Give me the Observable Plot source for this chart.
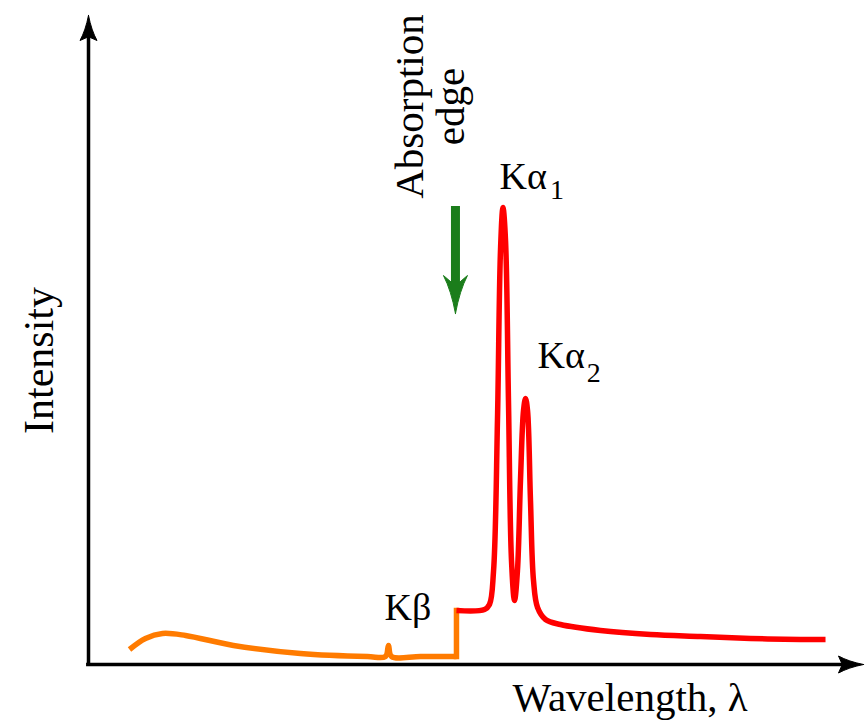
<!DOCTYPE html>
<html>
<head>
<meta charset="utf-8">
<script src="https://cdn.jsdelivr.net/npm/d3@7"></script>
<script src="https://cdn.jsdelivr.net/npm/@observablehq/plot@0.6"></script>
<style>
  html, body { margin: 0; padding: 0; background: #fff; }
</style>
</head>
<body>
<div id="chart"></div>
<script>
// Continuum below the absorption edge (orange)
const orangeLambda    = [5.29, 7.35, 9.55, 12.52, 18.71, 27.35, 36.00, 38.32, 38.71, 39.10, 42.84, 47.48];
const orangeIntensity = [2.31, 4.01, 4.78, 4.47, 2.93, 1.69, 1.23, 1.23, 2.93, 1.23, 1.23, 1.23];
// Absorption edge jump
const edgeLambda    = [47.48, 47.48];
const edgeIntensity = [1.23, 8.32];
// Above the edge, with the K-alpha doublet (red)
const redLambda    = [47.48, 51.10, 51.74, 52.26, 52.77, 53.16, 53.48, 53.81, 54.19, 54.58, 54.97, 55.35, 55.74, 56.13, 56.39, 56.65, 57.03, 57.42, 57.94, 58.97, 60.90, 66.06, 72.52, 78.97, 85.42, 91.87, 95.10];
const redIntensity = [8.32, 8.47, 9.24, 14.33, 37.60, 63.79, 70.42, 65.33, 40.68, 16.02, 9.86, 14.48, 28.35, 39.14, 40.99, 39.14, 25.27, 12.94, 8.78, 6.93, 6.16, 5.24, 4.62, 4.31, 4.01, 3.85, 3.85];

// Axes extent (arrow tips)
const axisMax = 100;

// Absorption-edge marker arrow
const edgeArrowX = [47.35];
const edgeArrowTop = [70.57];
const edgeArrowShaftEnd = [57.6];
const edgeArrowTip = [54.08];

// Labels
const peakText = ["Kα", "Kα", "Kβ"];
const peakX    = [53.03, 57.94, 38.19];
const peakY    = [73.34, 45.61, 6.78];
const subText  = ["1", "2"];
const subX     = [59.55, 64.30];
const subY     = [71.75, 43.60];
const edgeText = ["Absorption", "edge"];
const edgeTextX = [43.10, 48.39];
const edgeTextY = [85.98, 85.98];
const yLabel = ["Intensity"];
const yLabelX = [-4.52], yLabelY = [46.84];
const xLabel = ["Wavelength, λ"];
const xLabelX = [54.71], xLabelY = [-7.09];

const toPts = (xs, ys) => xs.map((x, i) => ({x, y: ys[i]}));
const orange = toPts(orangeLambda, orangeIntensity);
const edge = toPts(edgeLambda, edgeIntensity);
const red = toPts(redLambda, redIntensity);

const headShape = (notch) => ({
  draw(ctx, l, r) {
    ctx.moveTo(0, -l);
    ctx.quadraticCurveTo(r * 0.35, -l * 0.4, r, 0);
    ctx.lineTo(0, -l * notch);
    ctx.lineTo(-r, 0);
    ctx.quadraticCurveTo(-r * 0.35, -l * 0.4, 0, -l);
    ctx.closePath();
  }
});

const font = "Liberation Serif, Times New Roman, serif";

const chart = Plot.plot({
  width: 865,
  height: 722,
  marginLeft: 88,
  marginRight: 2,
  marginTop: 15,
  marginBottom: 58,
  x: {domain: [0, axisMax], axis: null},
  y: {domain: [0, axisMax], axis: null},
  style: {background: "#fff", fontFamily: font},
  marks: [
    // axes
    Plot.ruleX([0], {y1: 0, y2: axisMax - 2, stroke: "#000", strokeWidth: 3.5}),
    Plot.ruleY([0], {x1: -0.25, x2: axisMax - 2, stroke: "#000", strokeWidth: 3.5}),
    Plot.vector([{x: 0, y: axisMax}], {x: "x", y: "y", rotate: 0, anchor: "end", length: 25, r: 8.5, shape: headShape(0.15), fill: "#000", stroke: "#000", strokeWidth: 1}),
    Plot.vector([{x: axisMax, y: 0}], {x: "x", y: "y", rotate: 90, anchor: "end", length: 25, r: 8.5, shape: headShape(0.15), fill: "#000", stroke: "#000", strokeWidth: 1}),
    // spectrum
    Plot.line(orange, {x: "x", y: "y", stroke: "#ff7b00", strokeWidth: 5.5, curve: "catmull-rom", strokeLinecap: "butt"}),
    Plot.line(edge, {x: "x", y: "y", stroke: "#ff7b00", strokeWidth: 5.5, curve: "linear", strokeLinecap: "square", strokeLinejoin: "miter"}),
    Plot.line(red, {x: "x", y: "y", stroke: "#ff0000", strokeWidth: 5.5, curve: "catmull-rom", strokeLinecap: "butt"}),
    // absorption edge arrow
    Plot.ruleX(edgeArrowX, {x: d => d, y1: () => edgeArrowTop[0], y2: () => edgeArrowShaftEnd[0], stroke: "#1b7d1b", strokeWidth: 9}),
    Plot.vector(edgeArrowX, {x: d => d, y: () => edgeArrowTip[0], rotate: 180, anchor: "end", length: 38, r: 12, shape: headShape(0.27), fill: "#1b7d1b", stroke: "#1b7d1b", strokeWidth: 1}),
    // labels
    Plot.text(peakText, {x: (d, i) => peakX[i], y: (d, i) => peakY[i], text: d => d, textAnchor: "start", lineAnchor: "bottom", fontSize: 38, fill: "#000"}),
    Plot.text(subText, {x: (d, i) => subX[i], y: (d, i) => subY[i], text: d => d, textAnchor: "start", lineAnchor: "bottom", fontSize: 28, fill: "#000"}),
    Plot.text(edgeText, {x: (d, i) => edgeTextX[i], y: (d, i) => edgeTextY[i], text: d => d, rotate: -90, textAnchor: "middle", lineAnchor: "bottom", fontSize: 41, fill: "#000"}),
    Plot.text(yLabel, {x: (d, i) => yLabelX[i], y: (d, i) => yLabelY[i], text: d => d, rotate: -90, textAnchor: "middle", lineAnchor: "bottom", fontSize: 42, fill: "#000"}),
    Plot.text(xLabel, {x: (d, i) => xLabelX[i], y: (d, i) => xLabelY[i], text: d => d, textAnchor: "start", lineAnchor: "bottom", fontSize: 41, fill: "#000"})
  ]
});
document.getElementById("chart").appendChild(chart);
</script>
</body>
</html>
